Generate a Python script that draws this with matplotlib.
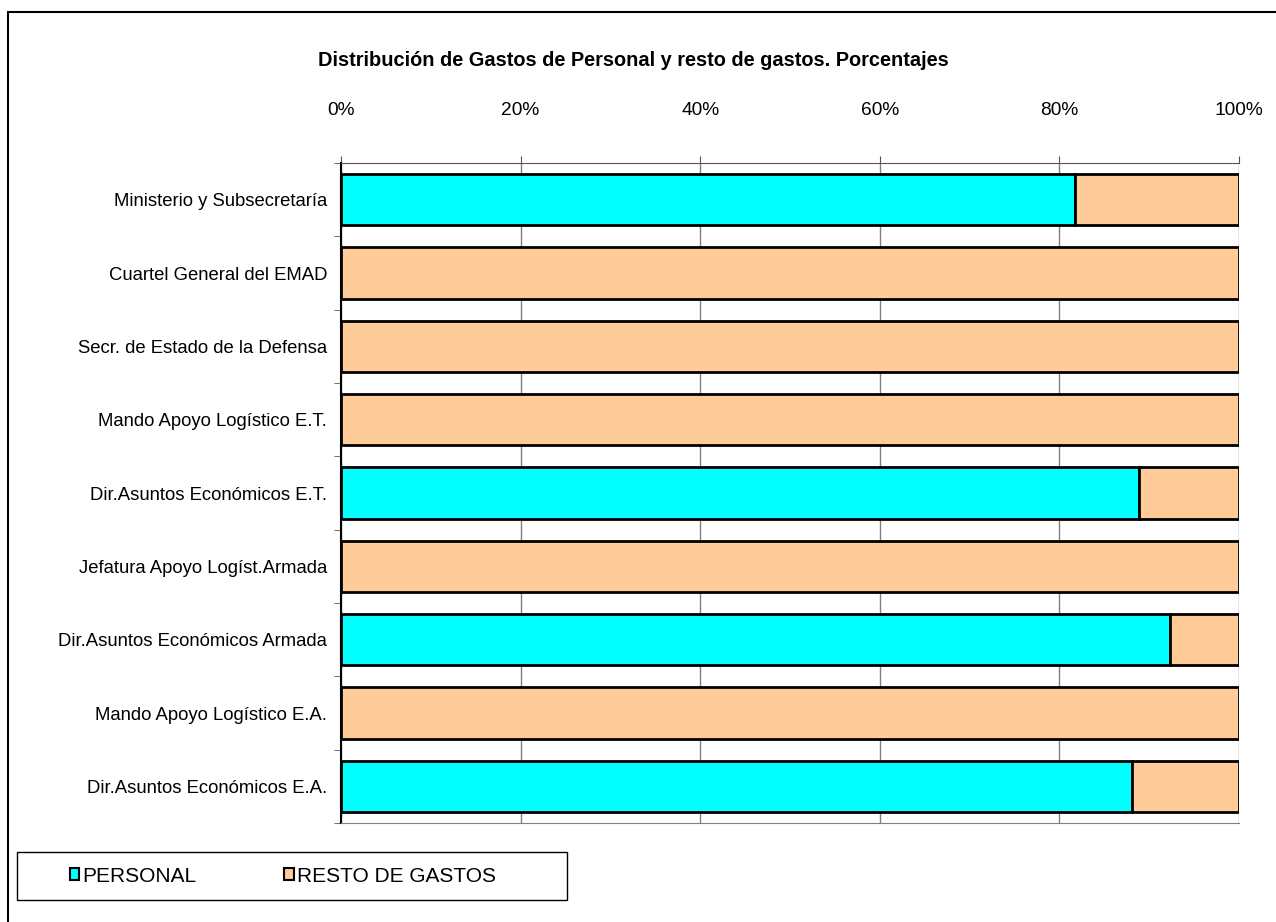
import matplotlib.pyplot as plt
from matplotlib.patches import Rectangle
from matplotlib.ticker import PercentFormatter
import numpy as np

plt.rcParams['font.family'] = ['Liberation Sans', 'DejaVu Sans']

# categories from top to bottom
categories = [
    "Ministerio y Subsecretaría",
    "Cuartel General del EMAD",
    "Secr. de Estado de la Defensa",
    "Mando Apoyo Logístico E.T.",
    "Dir.Asuntos Económicos E.T.",
    "Jefatura Apoyo Logíst.Armada",
    "Dir.Asuntos Económicos Armada",
    "Mando Apoyo Logístico E.A.",
    "Dir.Asuntos Económicos E.A.",
]
# share of personnel expenses (%)
personal = [81.7, 0, 0, 0, 88.9, 0, 92.3, 0, 88.1]
resto = [100 - p for p in personal]

col_personal = "#00FFFF"
col_resto = "#FFCC99"

W, H = 1276, 922
fig = plt.figure(figsize=(W / 100, H / 100), dpi=100)
# outer chart frame (left and top edges visible in the reference)
fig.patches.append(Rectangle((8 / W, -0.1), 1.2, (H - 12) / H + 0.1,
                             transform=fig.transFigure, fill=False,
                             edgecolor="black", linewidth=1.5))

ax = fig.add_axes([341 / W, 1 - 823 / H, (1239 - 341) / W, (823 - 163) / H])

y = np.arange(len(categories))
ax.barh(y, personal, height=0.7, color=col_personal, edgecolor="black", linewidth=2,
        label="PERSONAL", zorder=3)
ax.barh(y, resto, left=personal, height=0.7, color=col_resto, edgecolor="black",
        linewidth=2, label="RESTO DE GASTOS", zorder=3)

ax.set_xlim(0, 100)
ax.set_ylim(len(categories) - 0.5, -0.5)
ax.xaxis.tick_top()
ax.set_xticks(np.arange(0, 101, 20))
ax.xaxis.set_major_formatter(PercentFormatter(decimals=0))
ax.tick_params(axis="x", direction="out", length=5, color="#555555", labelsize=13.8, pad=27)
ax.set_yticks(y)
ax.set_yticklabels(categories, fontsize=13.3)
ax.set_yticks(np.arange(-0.5, len(categories), 1), minor=True)
ax.tick_params(axis="y", which="major", length=0, pad=10)
ax.tick_params(axis="y", which="minor", direction="out", length=5, color="#555555")
ax.grid(axis="x", color="#808080", linewidth=1, zorder=0)

ax.spines["right"].set_visible(False)
ax.spines["left"].set_color("black")
ax.spines["left"].set_linewidth(1.5)
ax.spines["top"].set_color("#555555")
ax.spines["bottom"].set_color("#808080")

fig.text(633 / W, 1 - 60 / H,
         "Distribución de Gastos de Personal y resto de gastos. Porcentajes",
         ha="center", va="center", fontsize=14.4, fontweight="bold")

# legend box drawn separately, entries placed inside
fig.patches.append(Rectangle((17 / W, 1 - 900 / H), (567 - 17) / W, 48 / H,
                             transform=fig.transFigure, fill=False,
                             edgecolor="black", linewidth=1))
leg = fig.legend(loc="center left", bbox_to_anchor=(70 / W, 1 - 876 / H),
                 ncol=2, fontsize=15, frameon=False,
                 handlelength=0.45, handleheight=0.45, handletextpad=0.15,
                 columnspacing=4.2, borderaxespad=0, borderpad=0)
for h in leg.legend_handles:
    h.set_linewidth(1.5)

fig.savefig("out.png", dpi=100)
